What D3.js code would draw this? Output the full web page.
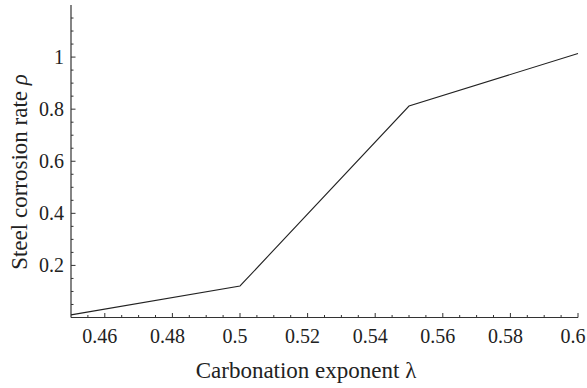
<!DOCTYPE html>
<html lang="en">
<head>
  <meta charset="UTF-8">
  <script src="https://d3js.org/d3.v7.min.js"></script>
  <style>
    body { margin: 0; background: #fff; }
    svg { display: block; }
  </style>
</head>
<body>
  <div id="chart"></div>
  <script>
    // carbonation exponent vs steel corrosion rate
    var lambda = [0.45, 0.5, 0.55, 0.6];
    var rho = [0.01, 0.121, 0.812, 1.014];

    var xMajor = [0.46, 0.48, 0.5, 0.52, 0.54, 0.56, 0.58, 0.6];
    var xMajorLabels = ["0.46", "0.48", "0.5", "0.52", "0.54", "0.56", "0.58", "0.6"];
    var yMajor = [0.2, 0.4, 0.6, 0.8, 1];
    var yMajorLabels = ["0.2", "0.4", "0.6", "0.8", "1"];

    var width = 587, height = 388;
    var serif = "'Liberation Serif'";
    var ink = "#222";

    var svg = d3.select("#chart").append("svg")
      .attr("width", width)
      .attr("height", height);

    var x = d3.scaleLinear().domain([0.45, 0.6]).range([71, 578]);
    var y = d3.scaleLinear().domain([0, 1.2]).range([317.5, 5]);

    // minor ticks every 0.005 on x, 0.05 on y
    var xMinor = d3.range(1, 31).map(function (i) { return +(0.45 + i * 0.005).toFixed(3); });
    var yMinor = d3.range(1, 24).map(function (i) { return +(i * 0.05).toFixed(2); });

    var isMajorX = function (v) { return xMajor.some(function (m) { return Math.abs(m - v) < 1e-6; }); };
    var isMajorY = function (v) { return yMajor.some(function (m) { return Math.abs(m - v) < 1e-6; }); };

    // axes lines
    svg.append("line")
      .attr("x1", x(0.45)).attr("x2", x(0.6))
      .attr("y1", y(0)).attr("y2", y(0))
      .attr("stroke", "#333").attr("stroke-width", 1.2);
    svg.append("line")
      .attr("x1", x(0.45)).attr("x2", x(0.45))
      .attr("y1", y(0)).attr("y2", y(1.2))
      .attr("stroke", "#333").attr("stroke-width", 1.2);

    // x ticks (inward)
    svg.selectAll(".xtick").data(xMinor).enter().append("line")
      .attr("class", "xtick")
      .attr("x1", function (d) { return x(d); }).attr("x2", function (d) { return x(d); })
      .attr("y1", y(0)).attr("y2", function (d) { return y(0) - (isMajorX(d) ? 4.5 : 2.5); })
      .attr("stroke", "#333").attr("stroke-width", 1);

    svg.selectAll(".xlab").data(xMajor).enter().append("text")
      .attr("class", "xlab")
      .attr("x", function (d) { return x(d) - 5; })
      .attr("y", 343)
      .attr("text-anchor", "middle")
      .style("font-family", serif).style("font-size", "20px").attr("fill", ink)
      .text(function (d, i) { return xMajorLabels[i]; });

    // y ticks (inward)
    svg.selectAll(".ytick").data(yMinor).enter().append("line")
      .attr("class", "ytick")
      .attr("y1", function (d) { return y(d); }).attr("y2", function (d) { return y(d); })
      .attr("x1", x(0.45)).attr("x2", function (d) { return x(0.45) + (isMajorY(d) ? 4.5 : 2.5); })
      .attr("stroke", "#333").attr("stroke-width", 1);

    svg.selectAll(".ylab").data(yMajor).enter().append("text")
      .attr("class", "ylab")
      .attr("x", 64)
      .attr("y", function (d) { return y(d) + 7; })
      .attr("text-anchor", "end")
      .style("font-family", serif).style("font-size", "20px").attr("fill", ink)
      .text(function (d, i) { return yMajorLabels[i]; });

    // data line
    var line = d3.line()
      .x(function (d, i) { return x(lambda[i]); })
      .y(function (d) { return y(d); });

    svg.append("path")
      .datum(rho)
      .attr("d", line)
      .attr("fill", "none")
      .attr("stroke", ink)
      .attr("stroke-width", 1.1);

    // axis titles
    svg.append("text")
      .attr("x", 306)
      .attr("y", 378)
      .attr("text-anchor", "middle")
      .style("font-family", serif).style("font-size", "23px").attr("fill", ink)
      .text("Carbonation exponent \u03bb");

    var yt = svg.append("text")
      .attr("transform", "translate(27,172) rotate(-90)")
      .attr("text-anchor", "middle")
      .style("font-family", serif).style("font-size", "23px").attr("fill", ink);
    yt.append("tspan").text("Steel corrosion rate ");
    yt.append("tspan").style("font-style", "italic").text("\u03c1");
  </script>
</body>
</html>
